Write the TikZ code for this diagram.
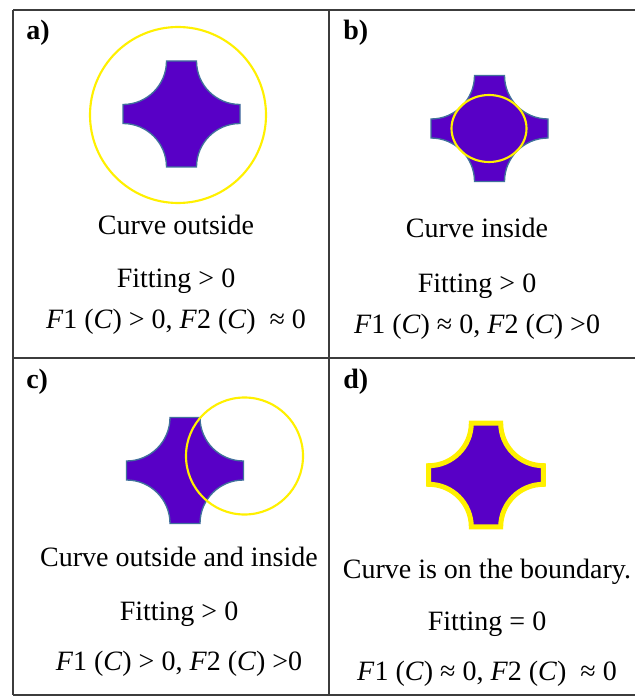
\documentclass[tikz,border=0pt]{standalone}
\usepackage{fontspec}
\setmainfont{Liberation Serif}
\usepackage{xcolor}
\definecolor{crossviolet}{RGB}{88,0,198}
\definecolor{crossedge}{RGB}{65,113,156}
\definecolor{curveyellow}{RGB}{255,240,0}
\definecolor{rulegray}{RGB}{60,60,60}
\tikzset{
  tablerule/.style={draw=rulegray, line width=1.1pt},
  crossbody/.style={fill=crossviolet, draw=crossedge, line width=1pt},
  curveline/.style={draw=curveyellow, line width=1.6pt},
  caption/.style={anchor=base, inner sep=0pt, font=\fontsize{21}{25}\selectfont},
  formula/.style={anchor=base, inner sep=0pt, font=\fontsize{21}{25}\selectfont},
  tag/.style={anchor=base west, inner sep=0pt, font=\fontsize{21}{25}\selectfont\bfseries},
  crossshape/.pic={
    \path[pic actions] (-15,53) -- (15,53) arc[start angle=180, end angle=270, radius=43.5]
      -- (58.5,-9.5) arc[start angle=90, end angle=180, radius=43.5]
      -- (-15,-53) arc[start angle=0, end angle=90, radius=43.5]
      -- (-58.5,9.5) arc[start angle=270, end angle=360, radius=43.5] -- cycle;
  },
}
\newcommand{\Fi}{\textit{F}}
\newcommand{\Ci}{\textit{C}}

\begin{document}
\begin{tikzpicture}[x=0.75pt, y=-0.75pt]
  \useasboundingbox (0,0) rectangle (635,698);

  % table
  \draw[tablerule] (13,10) -- (635,10);
  \draw[tablerule] (13,358) -- (635,358);
  \draw[tablerule] (13,695) -- (635,695);
  \draw[tablerule] (13,10) -- (13,695);
  \draw[tablerule] (329,10) -- (329,695);

  % a) curve outside
  \node[tag] (tagA) at (26,40) {a)};
  \pic[crossbody] (crossA) at (181.5,114) {crossshape};
  \draw[curveline] (178,115) circle[radius=88];
  \node[caption] (capA) at (176,235) {Curve outside};
  \node[caption] (fitA) at (176,287) {Fitting > 0};
  \node[formula] (eqA) at (176,328) {\Fi1 (\Ci) > 0, \Fi2 (\Ci)\ \ ≈ 0};

  % b) curve inside
  \node[tag] (tagB) at (343,40) {b)};
  \pic[crossbody] (crossB) at (489.5,128.5) {crossshape};
  \draw[curveline] (489,128.5) ellipse[x radius=37.5, y radius=33.5];
  \node[caption] (capB) at (477,238) {Curve inside};
  \node[caption] (fitB) at (477,292) {Fitting > 0};
  \node[formula] (eqB) at (477,333) {\Fi1 (\Ci) ≈ 0, \Fi2 (\Ci) >0};

  % c) curve outside and inside
  \node[tag] (tagC) at (26,388) {c)};
  \pic[crossbody] (crossC) at (185,470.5) {crossshape};
  \draw[curveline] (244.5,456) circle[radius=58.5];
  \node[caption] (capC) at (179,566) {Curve outside and inside};
  \node[caption] (fitC) at (179,620) {Fitting > 0};
  \node[formula] (eqC) at (179,670) {\Fi1 (\Ci) > 0, \Fi2 (\Ci) >0};

  % d) curve on the boundary
  \node[tag] (tagD) at (343,388) {d)};
  \pic[crossbody, draw=curveyellow, line width=3.75pt, scale=0.98] (crossD) at (486,475) {crossshape};
  \node[caption] (capD) at (487,578) {Curve is on the boundary.};
  \node[caption] (fitD) at (487,630) {Fitting = 0};
  \node[formula] (eqD) at (487,680) {\Fi1 (\Ci) ≈ 0, \Fi2 (\Ci)\ \ ≈ 0};
\end{tikzpicture}
\end{document}
